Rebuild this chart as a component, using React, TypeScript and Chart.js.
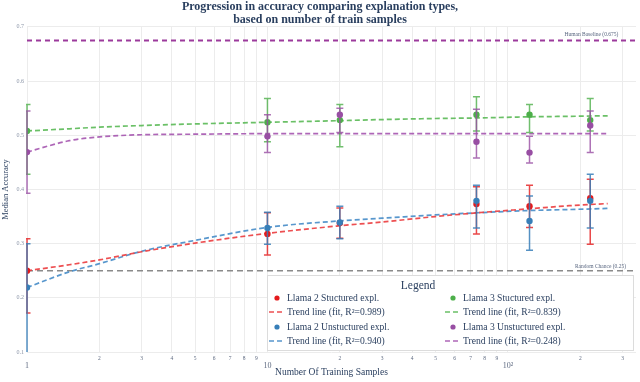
import React, { useEffect, useRef } from "react";
import { Chart, registerables } from "chart.js";

Chart.register(...registerables);

// ---------- text ----------
const TITLE_LINES = [
  "Progression in accuracy comparing explanation types,",
  "based on number of train samples",
];
const X_TITLE = "Number Of Training Samples";
const Y_TITLE = "Median Accuracy";
const LEGEND_TITLE = "Legend";
const HUMAN_LABEL = "Human Baseline (0.675)";
const RANDOM_LABEL = "Random Chance (0.25)";

// ---------- data ----------
const sampleCounts = [1, 10, 20, 74, 123, 220];

const llama2Struct = [0.25, 0.318, 0.338, 0.373, 0.369, 0.384];
const llama2StructLow = [0.172, 0.279, 0.31, 0.318, 0.33, 0.299];
const llama2StructHigh = [0.309, 0.357, 0.366, 0.405, 0.408, 0.419];

const llama2Unstruct = [0.219, 0.329, 0.339, 0.379, 0.342, 0.379];
const llama2UnstructLow = [0.08, 0.299, 0.309, 0.329, 0.288, 0.329];
const llama2UnstructHigh = [0.3, 0.358, 0.369, 0.408, 0.388, 0.428];

const llama3Struct = [0.508, 0.524, 0.528, 0.538, 0.538, 0.528];
const llama3StructLow = [0.428, 0.488, 0.479, 0.508, 0.505, 0.508];
const llama3StructHigh = [0.557, 0.568, 0.557, 0.571, 0.557, 0.568];

const llama3Unstruct = [0.469, 0.498, 0.538, 0.488, 0.468, 0.518];
const llama3UnstructLow = [0.393, 0.468, 0.505, 0.458, 0.449, 0.468];
const llama3UnstructHigh = [0.545, 0.538, 0.55, 0.548, 0.498, 0.545];

// trend lines
const trendX = [1, 1.5, 2, 3, 5, 10, 20, 30, 50, 75, 120, 180, 260];
const trendL2S = [0.25, 0.261, 0.27, 0.285, 0.301, 0.319, 0.333, 0.34, 0.35, 0.357, 0.364, 0.37, 0.374];
const trendL2U = [0.219, 0.248, 0.263, 0.286, 0.306, 0.33, 0.342, 0.347, 0.353, 0.357, 0.361, 0.363, 0.365];
const trendL3S = [0.508, 0.512, 0.515, 0.518, 0.521, 0.524, 0.527, 0.529, 0.531, 0.532, 0.534, 0.535, 0.536];
const trendL3U = [0.469, 0.49, 0.497, 0.501, 0.502, 0.503, 0.503, 0.503, 0.503, 0.503, 0.503, 0.503, 0.503];

const r2Values = ["0.989", "0.940", "0.839", "0.248"];
const seriesNames = [
  "Llama 2 Stuctured expl.",
  "Llama 2 Unstuctured expl.",
  "Llama 3 Stuctured expl.",
  "Llama 3 Unstuctured expl.",
];

const humanBaseline = 0.675;
const randomChance = 0.25;

// ticks
const xTickValues = [1, 2, 3, 4, 5, 6, 7, 8, 9, 10, 20, 30, 40, 50, 60, 70, 80, 90, 100, 200, 300];
const xTickLabels = ["1", "2", "3", "4", "5", "6", "7", "8", "9", "10", "2", "3", "4", "5", "6", "7", "8", "9", "10\u00B2", "2", "3"];
const yTickValues = [0.1, 0.2, 0.3, 0.4, 0.5, 0.6, 0.7];

// ---------- style ----------
const FONT = "'Liberation Serif', 'Times New Roman', serif";
const NAVY = "#2a3f5f";
const COLORS = ["#e41a1c", "#377eb8", "#4daf4a", "#984ea3"];
const ERR_COLORS = ["rgba(228,26,28,0.8)", "rgba(55,126,184,0.85)", "rgba(77,175,74,0.8)", "rgba(152,78,163,0.8)"];
const TREND_COLORS = ["rgba(235,60,62,0.9)", "rgba(70,140,200,0.9)", "rgba(90,185,85,0.9)", "rgba(165,85,175,0.9)"];

const isPow10 = (v: number) => Math.abs(Math.log10(v) - Math.round(Math.log10(v))) < 1e-9;

const pts = (xs: number[], ys: number[]) => xs.map((x, i) => ({ x, y: ys[i] }));

const refLinesPlugin = {
  id: "refLines",
  beforeDatasetsDraw(chart: any) {
    const { ctx, chartArea: a, scales } = chart;
    const y = scales.y;
    const x = scales.x;
    ctx.save();
    const yh = y.getPixelForValue(humanBaseline);
    ctx.strokeStyle = "#9c3a9c";
    ctx.lineWidth = 2;
    ctx.setLineDash([5, 4]);
    ctx.beginPath();
    ctx.moveTo(a.left, yh);
    ctx.lineTo(a.right, yh);
    ctx.stroke();
    const yr = y.getPixelForValue(randomChance);
    ctx.strokeStyle = "#8a8a8a";
    ctx.lineWidth = 1.5;
    ctx.setLineDash([6, 4]);
    ctx.beginPath();
    ctx.moveTo(a.left, yr);
    ctx.lineTo(a.right, yr);
    ctx.stroke();
    ctx.setLineDash([]);
    ctx.fillStyle = "#5a6780";
    ctx.font = `5.5px ${FONT}`;
    ctx.textAlign = "right";
    ctx.textBaseline = "middle";
    ctx.fillText(HUMAN_LABEL, x.getPixelForValue(288), yh - 6);
    ctx.fillText(RANDOM_LABEL, x.getPixelForValue(310), yr - 4.5);
    ctx.restore();
  },
};

const errorBarPlugin = {
  id: "errorBars",
  beforeDatasetDraw(chart: any, args: any) {
    const ds = chart.data.datasets[args.index];
    if (!ds.errLow) return;
    const { ctx, chartArea: a, scales } = chart;
    const x = scales.x;
    const y = scales.y;
    ctx.save();
    ctx.beginPath();
    ctx.rect(a.left - 1, a.top, a.right - a.left + 1, a.bottom - a.top);
    ctx.clip();
    ctx.strokeStyle = ds.errColor;
    ctx.lineWidth = 1.5;
    ds.data.forEach((p: any, i: number) => {
      const px = x.getPixelForValue(p.x);
      const yl = y.getPixelForValue(ds.errLow[i]);
      const yhh = y.getPixelForValue(ds.errHigh[i]);
      ctx.beginPath();
      ctx.moveTo(px, yl);
      ctx.lineTo(px, yhh);
      ctx.moveTo(px - 3.5, yl);
      ctx.lineTo(px + 3.5, yl);
      ctx.moveTo(px - 3.5, yhh);
      ctx.lineTo(px + 3.5, yhh);
      ctx.stroke();
    });
    ctx.restore();
  },
};

const legendPlugin = {
  id: "customLegend",
  afterDraw(chart: any) {
    const { ctx } = chart;
    const box = { left: 267, top: 275, right: 634, bottom: 351 };
    ctx.save();
    ctx.fillStyle = "#ffffff";
    ctx.fillRect(box.left, box.top, box.right - box.left, box.bottom - box.top);
    ctx.strokeStyle = "#dcdcdc";
    ctx.lineWidth = 1;
    ctx.strokeRect(box.left + 0.5, box.top + 0.5, box.right - box.left - 1, box.bottom - box.top - 1);
    ctx.fillStyle = NAVY;
    ctx.font = `11.5px ${FONT}`;
    ctx.textAlign = "center";
    ctx.textBaseline = "middle";
    ctx.fillText(LEGEND_TITLE, 418, 286);
    const cols = [269, 445];
    const rows = [298, 327];
    ctx.textAlign = "left";
    ctx.font = `9.6px ${FONT}`;
    for (let i = 0; i < 4; i++) {
      const cx = cols[Math.floor(i / 2)];
      const ry = rows[i % 2];
      // marker
      ctx.fillStyle = COLORS[i];
      ctx.beginPath();
      ctx.arc(cx + 8, ry, 2.6, 0, Math.PI * 2);
      ctx.fill();
      ctx.fillStyle = NAVY;
      ctx.fillText(seriesNames[i], cx + 18, ry);
      // trend dash
      const ty = ry + 14;
      ctx.strokeStyle = TREND_COLORS[i];
      ctx.lineWidth = 1.6;
      ctx.setLineDash([5, 3]);
      ctx.beginPath();
      ctx.moveTo(cx, ty);
      ctx.lineTo(cx + 14, ty);
      ctx.stroke();
      ctx.setLineDash([]);
      ctx.fillStyle = NAVY;
      ctx.fillText(`Trend line (fit, R\u00B2=${r2Values[i]})`, cx + 18, ty);
    }
    ctx.restore();
  },
};

export default function App() {
  const ref = useRef<HTMLCanvasElement | null>(null);

  useEffect(() => {
    if (!ref.current) return;
    const scatterSets = [
      { vals: llama3Unstruct, lo: llama3UnstructLow, hi: llama3UnstructHigh, c: 3 },
      { vals: llama3Struct, lo: llama3StructLow, hi: llama3StructHigh, c: 2 },
      { vals: llama2Unstruct, lo: llama2UnstructLow, hi: llama2UnstructHigh, c: 1 },
      { vals: llama2Struct, lo: llama2StructLow, hi: llama2StructHigh, c: 0 },
    ].map((s) => ({
      type: "scatter" as const,
      label: seriesNames[s.c],
      data: pts(sampleCounts, s.vals),
      errLow: s.lo,
      errHigh: s.hi,
      errColor: ERR_COLORS[s.c],
      backgroundColor: COLORS[s.c],
      borderColor: COLORS[s.c],
      borderWidth: 0,
      pointRadius: 3.2,
      clip: 0,
    }));
    const trendSets = [trendL2S, trendL2U, trendL3S, trendL3U].map((t, i) => ({
      type: "line" as const,
      label: "Trend line",
      data: pts(trendX, t),
      borderColor: TREND_COLORS[i],
      borderWidth: 1.7,
      borderDash: [5, 3],
      pointRadius: 0,
      fill: false,
      cubicInterpolationMode: "monotone" as const,
      clip: 0,
    }));

    const chart = new Chart(ref.current, {
      type: "scatter",
      data: { datasets: [...scatterSets, ...trendSets] as any },
      options: {
        animation: false,
        responsive: false,
        maintainAspectRatio: false,
        layout: { padding: 0 },
        plugins: {
          legend: { display: false },
          tooltip: { enabled: false },
          title: {
            display: true,
            text: TITLE_LINES,
            color: NAVY,
            font: { family: FONT, size: 12, weight: "bold", lineHeight: 1.08 },
            padding: { top: 0, bottom: 1 },
          },
        },
        scales: {
          x: {
            type: "logarithmic",
            min: 1,
            max: 341,
            afterBuildTicks: (s: any) => {
              s.ticks = xTickValues.map((v) => ({ value: v }));
            },
            afterFit: (s: any) => {
              s.height = 30;
            },
            grid: { color: "#ececec", drawTicks: false, lineWidth: 1 },
            border: { display: false },
            ticks: {
              autoSkip: false,
              maxRotation: 0,
              minRotation: 0,
              padding: 3,
              color: "#5f6b82",
              font: (c: any) =>
                c.tick && isPow10(c.tick.value)
                  ? { family: FONT, size: 8, lineHeight: 0.9 }
                  : { family: FONT, size: 5.5 },
              callback: (v: any, i: number) => (isPow10(Number(v)) ? ["", xTickLabels[i]] : xTickLabels[i]),
            },
            title: {
              display: true,
              text: X_TITLE,
              color: NAVY,
              font: { family: FONT, size: 9.5 },
              padding: { top: 0, bottom: 4 },
            },
          },
          y: {
            type: "linear",
            min: 0.1,
            max: 0.7,
            afterBuildTicks: (s: any) => {
              s.ticks = yTickValues.map((v) => ({ value: v }));
            },
            afterFit: (s: any) => {
              s.width = 27;
            },
            grid: { color: "#ececec", drawTicks: false },
            border: { display: false },
            ticks: {
              padding: 3,
              color: "#8c96a8",
              font: { family: FONT, size: 6 },
              callback: (v: any) => Number(v).toFixed(1),
            },
            title: {
              display: true,
              text: Y_TITLE,
              color: NAVY,
              font: { family: FONT, size: 8.5 },
              padding: { top: 1, bottom: 0 },
            },
          },
        },
      },
      plugins: [refLinesPlugin, errorBarPlugin, legendPlugin],
    });
    return () => chart.destroy();
  }, []);

  return (
    <div style={{ position: "absolute", left: 0, top: 0, width: 640, height: 382, background: "#fff" }}>
      <canvas ref={ref} width={640} height={382} style={{ display: "block", width: 640, height: 382 }} />
    </div>
  );
}
